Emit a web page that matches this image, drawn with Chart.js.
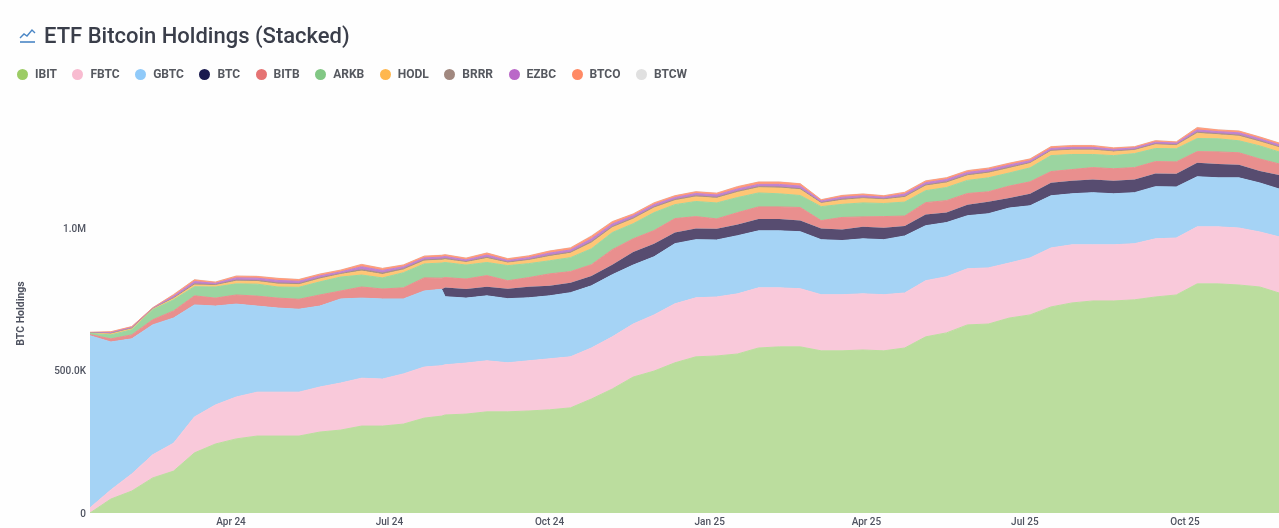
<!DOCTYPE html>
<html>
<head>
<meta charset="utf-8">
<title>ETF Bitcoin Holdings (Stacked)</title>
<script src="https://cdn.jsdelivr.net/npm/chart.js@4"></script>
<style>
  html, body { margin: 0; padding: 0; background: #fefefe; width: 1279px; height: 528px; overflow: hidden; }
  body { position: relative; font-family: Roboto, sans-serif; filter: blur(0.6px); }
  #chart { position: absolute; left: 0; top: 0; }
  #head { position: absolute; left: 18px; top: 23px; display: flex; align-items: center; color: #3a3e4a; font-size: 22px; font-weight: 500; line-height: 26px; }
  #head svg { margin-right: 7px; }
  #legend { position: absolute; left: 17px; top: 67px; display: flex; gap: 15.5px; font-size: 12px; font-weight: 700; color: #55585f; line-height: 14px; }
  #legend div { display: flex; align-items: center; }
  #legend i { display: block; width: 11px; height: 11px; border-radius: 50%; margin-right: 7px; }
</style>
</head>
<body>
<canvas id="chart" width="1279" height="528"></canvas>
<div id="head">
  <svg width="19" height="18" viewBox="0 0 19 18"><polyline points="2,11 6,7 9,9 14,3 17,6" fill="none" stroke="#4a86c5" stroke-width="1.4"/><line x1="2" y1="15" x2="17" y2="15" stroke="#4a86c5" stroke-width="1.6"/></svg>
  <span>ETF Bitcoin Holdings (Stacked)</span>
</div>
<div id="legend"></div>
<script>
// days since 11 Jan 2024, values in thousands of BTC
const days = [0,12,24,36,48,60,72,84,96,108,120,132,144,156,168,180,192,202,204,216,228,240,252,264,276,288,300,312,324,336,348,360,372,384,396,408,420,432,444,456,468,480,492,504,516,528,540,552,564,576,588,600,612,624,636,648,660,672,683];

const ibit = [0,49,77,123,147,211,242,260,270,270,270,284,291,305,305,312,333,340,344,347,355,355,358,362,369,400,435,477,498,527,548,551,558,579,583,583,569,569,572,569,579,618,632,660,663,684,695,723,737,744,744,748,758,765,804,804,800,793,772];
const fbtc = [18,32,60,81,98,126,137,147,154,154,154,158,165,168,165,176,179,177,176,179,179,172,176,179,179,179,183,186,197,207,207,207,211,211,207,204,197,197,197,197,193,197,197,197,197,193,200,207,204,197,197,197,204,200,200,200,200,193,197];
const gbtc = [604,519,474,456,439,393,347,326,302,295,291,284,295,281,281,263,267,268,239,228,228,225,221,221,225,218,218,207,204,211,204,200,204,200,200,200,193,190,193,193,200,193,190,186,190,193,183,183,179,183,179,179,183,179,176,172,176,172,168];
const btc = [0,0,0,0,0,0,0,0,0,0,0,0,0,0,0,0,0,0,32,32,32,35,39,35,35,35,35,46,46,39,39,39,39,42,42,39,39,39,42,42,35,39,35,39,42,35,42,46,46,46,46,46,46,46,49,49,46,42,49];
const bitb = [4,11,14,18,25,32,28,32,35,35,35,39,28,39,35,39,46,39,35,35,39,28,32,42,39,39,53,46,46,49,42,35,42,42,42,46,28,42,35,39,35,42,42,39,35,42,42,39,39,42,42,42,42,42,39,42,42,42,39];
const arkb = [4,14,18,35,39,32,39,39,42,39,42,46,49,42,39,53,49,53,53,49,46,53,49,46,49,56,60,53,63,49,53,56,53,49,46,42,49,46,49,46,49,42,46,46,49,46,49,56,53,46,46,49,46,46,46,46,42,46,42];
const hodl = [1,3,3,2,4,6,5,9,9,10,9,10,9,14,12,10,10,10,10,9,14,9,11,15,15,20,17,16,16,14,16,16,18,18,20,20,11,14,15,13,16,16,16,16,16,16,15,15,15,15,13,11,13,11,18,14,16,14,15];
const brrr = [1,2,2,1,3,4,3,4,4,4,4,4,3,5,5,4,4,4,4,3,4,3,3,4,4,5,4,4,4,4,4,4,4,4,4,4,3,4,3,3,4,4,4,4,4,4,3,3,3,3,3,3,3,3,4,4,4,4,3];
const ezbc = [1,3,3,2,6,8,5,8,8,9,8,7,6,10,9,7,7,7,7,6,8,6,7,8,8,10,9,8,8,7,8,8,8,8,9,9,6,7,7,6,8,8,8,8,8,8,7,7,7,7,6,6,6,6,8,7,8,7,7];
const btco = [1,3,3,2,5,6,4,6,6,7,6,6,6,8,7,6,6,6,6,6,7,6,6,7,7,9,8,6,6,6,6,6,8,8,8,8,4,6,6,5,6,6,6,6,6,6,6,6,6,6,5,4,5,4,8,6,6,6,6];
const btcw = [0,0,0,0,1,1,1,1,1,1,1,1,1,1,1,1,1,1,1,1,1,1,1,1,1,2,1,1,1,1,1,1,1,1,1,1,1,1,1,1,1,1,1,1,1,1,1,1,1,1,1,1,1,1,1,1,1,1,1];

const names = ["IBIT","FBTC","GBTC","BTC","BITB","ARKB","HODL","BRRR","EZBC","BTCO","BTCW"];
const series = [ibit,fbtc,gbtc,btc,bitb,arkb,hodl,brrr,ezbc,btco,btcw];
const dotColors = ["#9CCC65","#F8BBD0","#90CAF9","#1A1A4E","#E57373","#81C784","#FFB74D","#A1887F","#BA68C8","#FF8A65","#E0E0E0"];
const bandColors = ["#BBDD9E","#F9C9DA","#A5D3F5","#574C70","#E98F8E","#9BD5A0","#FFC675","#A89085","#BF82CF","#FF9A7A","#E6E6E6"];

const xTickDays = [81,172,264,356,446,537,629];
const xTickLabels = ["Apr 24","Jul 24","Oct 24","Jan 25","Apr 25","Jul 25","Oct 25"];
const yTickValues = [0,500,1000];
const yTickLabels = ["0","500.0K","1.0M"];

const legend = document.getElementById("legend");
names.forEach(function (name, i) {
  const item = document.createElement("div");
  item.innerHTML = '<i style="background:' + dotColors[i] + '"></i>' + name;
  legend.appendChild(item);
});

const datasets = names.map(function (name, i) {
  return {
    label: name,
    data: series[i].map(function (v, j) { return { x: days[j], y: v }; }),
    backgroundColor: bandColors[i],
    borderColor: bandColors[i],
    borderWidth: name === "BTC" ? 0 : 1,
    pointRadius: 0,
    tension: 0,
    fill: i === 0 ? "origin" : "-1",
  };
});

const tickFont = { family: "Roboto", size: 10, weight: "500" };

new Chart(document.getElementById("chart"), {
  type: "line",
  data: { datasets: datasets },
  options: {
    responsive: false,
    animation: false,
    layout: { padding: { top: 114, left: 0, right: 0, bottom: 0 } },
    plugins: { legend: { display: false }, tooltip: { enabled: false } },
    scales: {
      x: {
        type: "linear",
        min: 0,
        max: 683,
        grid: { display: false, drawTicks: false },
        border: { display: false },
        afterBuildTicks: function (axis) {
          axis.ticks = xTickDays.map(function (d) { return { value: d }; });
        },
        afterFit: function (axis) { axis.height = 15; },
        ticks: {
          autoSkip: false,
          maxRotation: 0,
          padding: 3,
          color: "#4f5360",
          font: tickFont,
          callback: function (v) { return xTickLabels[xTickDays.indexOf(v)]; },
        },
      },
      y: {
        stacked: true,
        min: 0,
        max: 1400,
        grid: { display: false, drawTicks: false },
        border: { display: false },
        afterBuildTicks: function (axis) {
          axis.ticks = yTickValues.map(function (v) { return { value: v }; });
        },
        afterFit: function (axis) { axis.width = 90; },
        title: {
          display: true,
          text: "BTC Holdings",
          color: "#4f5360",
          font: { family: "Roboto", size: 10.5, weight: "700" },
          padding: { top: 15, bottom: 0 },
        },
        ticks: {
          padding: 4,
          labelOffset: 1,
          color: "#4f5360",
          font: tickFont,
          callback: function (v) { return yTickLabels[yTickValues.indexOf(v)]; },
        },
      },
    },
  },
});
</script>
</body>
</html>
